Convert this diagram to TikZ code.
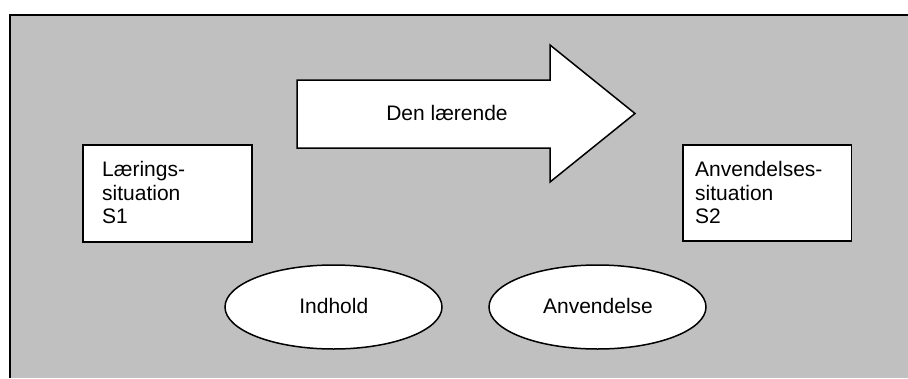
\documentclass[tikz,border=0pt]{standalone}
\usepackage{fontspec}
\setmainfont{Liberation Sans}
\usetikzlibrary{shapes.geometric}
\definecolor{panelgray}{HTML}{C0C0C0}

\begin{document}
\begin{tikzpicture}[x=1pt,y=-1pt,
  txt/.style={font=\fontsize{21}{23.3}\selectfont, inner sep=0pt},
  outline/.style={draw=black, line width=1.5pt, fill=white},
  situationbox/.style={outline, rectangle, inner sep=0pt, anchor=north west},
  topic/.style={outline, ellipse, inner sep=0pt, minimum width=217pt, minimum height=84pt}]
  \useasboundingbox (0,0) rectangle (908,378);
  % background panel with its top and left rule
  \fill[white] (0,0) rectangle (908,378);
  \fill[panelgray] (10,15) rectangle (908,378);
  \draw[line width=2pt] (10,378) -- (10,15) -- (908,15);

  % block arrow
  \draw[outline, line join=miter]
    (297,80) -- (550,80) -- (550,45) -- (635,113.5) -- (550,182) -- (550,148) -- (297,148) -- cycle;
  \node[txt, anchor=base] (learner) at (447,120) {Den lærende};

  % the two situations (multi-line text is anchored on its last baseline)
  \node[situationbox, minimum width=169pt, minimum height=97pt] (s1box) at (82,144) {};
  \node[txt, align=left, anchor=base west] (s1text) at (102,223.3) {Lærings-\\situation\\S1};
  \node[situationbox, minimum width=168.5pt, minimum height=96pt] (s2box) at (682,144) {};
  \node[txt, align=left, anchor=base west] (s2text) at (695,223.3) {Anvendelses-\\situation\\S2};

  % the two ellipses
  \node[topic] (content) at (333.5,307) {};
  \node[txt, anchor=base] (contenttext) at (333.8,313.3) {Indhold};
  \node[topic] (use) at (597.5,307) {};
  \node[txt, anchor=base] (usetext) at (598,313.3) {Anvendelse};
\end{tikzpicture}
\end{document}
